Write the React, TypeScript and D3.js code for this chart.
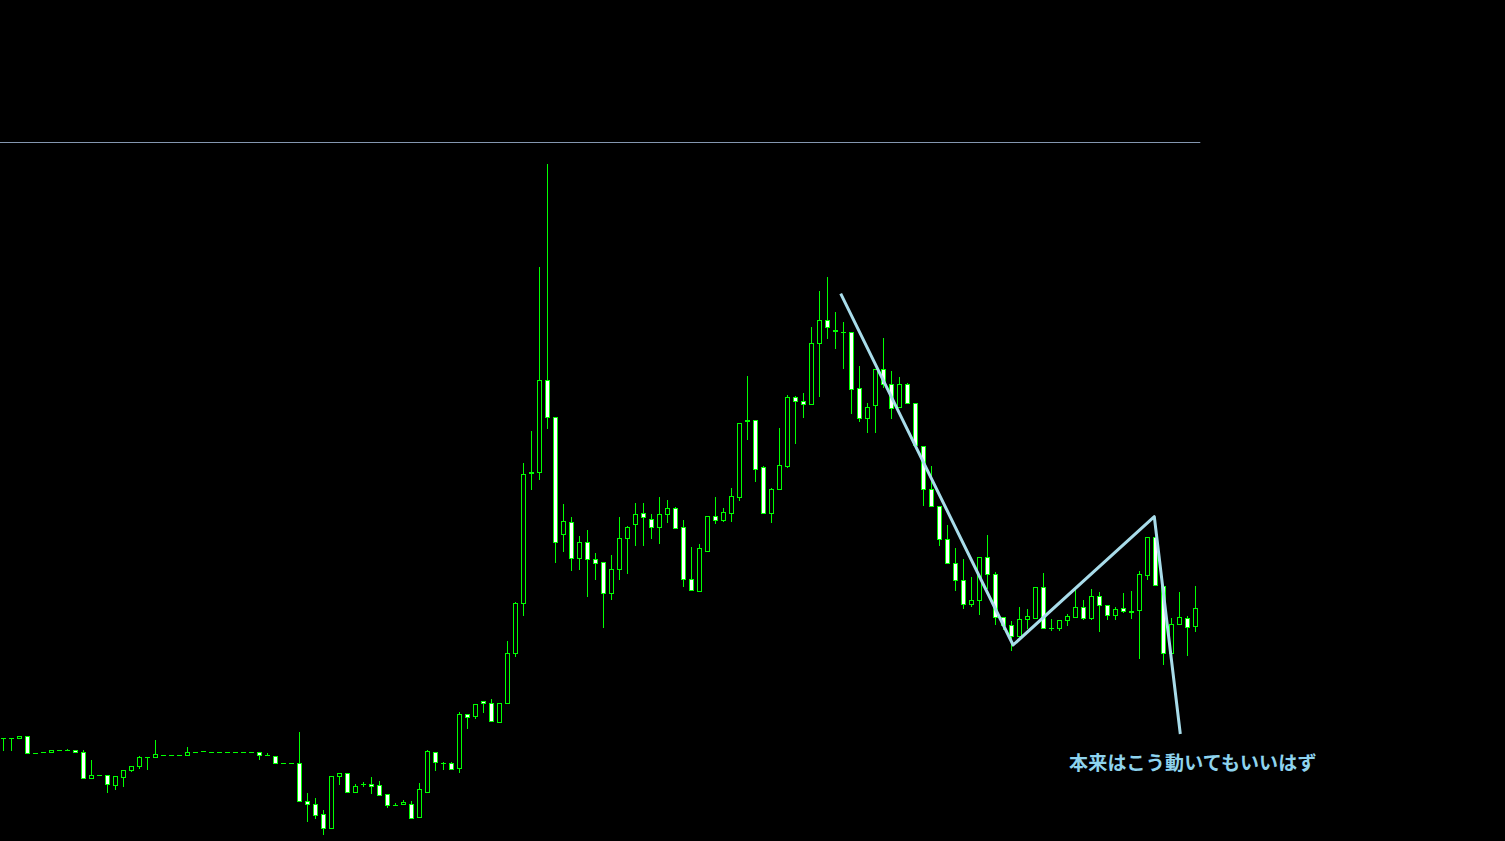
import React from "react";
import * as d3 from "d3";

// OHLC per bar (price units), oldest first
const opens = [112,112,111.7,113.7,97,97.7,97.7,99.7,99.7,99.7,97.7,71.7,74.7,74.7,64.7,72.7,79.7,83.7,92.7,92.7,95.5,94.7,94.7,94.7,98,98.7,97.7,97.7,97.7,97.7,97.7,97.7,97.7,94.7,93.7,86.7,86.7,86.7,48.7,45.7,35.7,21.7,73.7,76.7,57.7,65.7,65.7,64.7,55.7,45.5,45.7,45.7,33.3,57.7,97.7,86.7,86.7,81.7,135.7,133.7,148.7,146.7,127.7,146.7,196.7,246.7,376.7,378.3,470,432.7,316.3,327.7,292.3,307.7,290.7,287.7,257.3,280.7,311.7,325.7,336.7,330.7,322.7,335.7,341.7,322.7,270.7,258.7,298.7,333.7,329.7,336.7,353.3,429.3,429.7,382.7,337.3,360.7,384.3,452.7,448.7,445.7,506.7,529.7,519.2,517.7,517.7,461.7,431.7,444.7,480.7,465.7,443,465.7,446.7,403.7,360.7,343.7,310.7,286.7,269.7,245.7,249.7,292.7,275.7,232.7,224.7,213.7,230.7,231.7,262.7,221.7,221.7,229.7,232.7,242.7,231.7,253.7,244.7,234.7,241.7,238.7,239.7,274.7,312.7,263.7,196.7,225.7,231.7,223.7];
const highs = [112,112,113.7,113.7,97,97.7,99.7,99.7,100.7,99.7,99.7,89.7,74.7,74.7,73.7,79.7,83.7,93.7,92.7,109.7,95.5,94.7,94.7,102.7,98,98.7,97.7,97.7,97.7,97.7,97.7,97.7,97.7,96.7,93.7,86.7,86.7,117.7,56.7,51.7,39.7,73.7,76.7,76.7,65.7,67.7,72.7,68.7,55.7,46.7,49.7,49,66.7,99.7,97.7,87.7,87.7,137.7,135.7,145.7,148.7,150.7,146.7,208.7,247.7,386.7,419,583,686,432.7,346,333,314,320,297,287.7,295,333,324,347,347,336,353,350,343,329.7,302.7,305.7,333.7,353,341.7,361.7,426.7,474,429.7,384,361.7,422,454.7,454,456.7,522.7,558.7,572.7,537.7,527.7,517.7,483.7,446.7,480.7,511.7,478.7,472.7,466.7,446.7,403.7,383.7,343.7,324.7,301.7,290.7,272.7,292.7,314.7,277.7,232.7,228.7,242.7,240.7,262.7,276.7,230.7,229.7,235.7,262.7,249.7,260.7,257.7,244.7,242.7,256.7,258.7,278.7,312.7,312.7,263.7,231.7,257.7,233.7,263.7];
const lows = [99,99,110.7,96.7,97,97.7,97.7,99.7,99.7,97.7,71.7,70.7,74.7,57.3,60.3,63.3,77.7,80.7,79.7,92.7,95.5,94.7,94.7,93.7,98,98.7,97.7,97.7,97.7,97.7,97.7,97.7,90,94.7,86.7,86.7,86.7,48.7,28.3,31.3,15.3,21.7,64.7,56.7,56.7,63.3,55.7,54.7,41.7,45.5,44.7,31.3,33.3,57.7,79.3,80.3,80.7,77.3,121.3,130.7,136.7,128.7,127.7,145.7,192.7,234.3,360,370,421.3,287.3,298,279.3,280,253.3,270,222.3,250,270,276,304,304,311,306,326.7,320.7,263.3,259.7,258.7,298.7,325.7,327.7,327.7,349.3,410,368.3,337.3,327.3,360.7,382.3,406.3,432.3,445.7,453.3,511.3,501.3,481.3,436.3,428.3,417.3,417.3,462,430.7,443,445.7,404.7,343.7,343.7,303.7,286.7,258.7,240.7,242.7,234.7,260.7,224.7,220,199.3,213.7,220.7,231.7,220.7,218.7,218.7,223.7,232.7,229.7,229.7,217.7,229.7,229.7,236.7,230.7,191.3,269.7,264.7,184.7,196.7,224.7,193.7,217.7];
const closes = [112,112,113.7,96.7,97,97.7,99.7,99.7,99.7,97.7,71.7,74.7,74.7,65.7,73.7,79.7,83.7,92.7,92.7,95.7,95.5,94.7,94.7,97.7,98,98.7,97.7,97.7,97.7,97.7,97.7,97.7,94.7,94.7,86.7,86.7,86.7,48.7,45.7,34.7,22.3,73.7,76.7,57.7,63.7,65.7,63.7,54.7,44.7,45.5,47.7,32.3,60.7,98.7,87.7,86.7,80.7,135.7,132.7,145.7,146.7,128.7,146.7,196.7,246.7,375.7,377.7,470,433.3,308.3,329,291.7,307.7,291.3,287.3,256.7,280.7,311.7,322.7,335.7,332.7,322.7,335.7,341.7,321.7,270.7,259.7,301.7,333.7,329.7,337.7,353.7,426.7,430.3,380.7,337.3,360.7,384.7,452.7,448.7,445.7,506.7,529.7,522.7,520,517.7,460.7,431.7,442.7,480.7,465.7,441.7,465.7,446.7,404.7,360.7,343.7,310.7,286.7,269.7,245.7,249.7,292.7,275.7,232.7,224.7,213.7,230.7,233.7,262.7,221.7,221.7,229.7,233.7,242.7,231.7,253.7,244.7,234.7,240.7,238.7,238.2,275.7,312.7,264.7,196.7,225.7,232.7,222.7,241.7];

// horizontal price level line
const levelPrice = 707.5;
const levelEndBar = 149.6;

// hand-drawn projection path: [bar index, price]
const pathBars = [104.65, 126.2, 143.85, 147.1];
const pathPrices = [556.3, 205, 333.3, 116];
const noteText = "本来はこう動いてもいいはず";

const W = 1505;
const H = 841;
const GREEN = "#00ff00";

export default function App() {
  const x = d3.scaleLinear().domain([0, 149]).range([3.5, 3.5 + 8 * 149]);
  const y = d3.scaleLinear().domain([0, 850]).range([850, 0]);
  const pts: [number, number][] = pathBars.map((b, i) => [x(b), y(pathPrices[i])]);
  const line = d3.line();
  const bodyHalf = 2;

  return (
    <svg
      width={W}
      height={H}
      style={{ position: "absolute", left: 0, top: 0, display: "block" }}
    >
      <rect x={0} y={0} width={W} height={H} fill="#000" />
      <line
        x1={0}
        x2={x(levelEndBar)}
        y1={Math.round(y(levelPrice)) + 0.5}
        y2={Math.round(y(levelPrice)) + 0.5}
        stroke="#8497b0"
        strokeWidth={1}
      />
      {opens.map((o, i) => {
        const c = closes[i];
        const cx = x(i);
        const yo = Math.round(y(o));
        const yc = Math.round(y(c));
        const yh = Math.round(y(highs[i]));
        const yl = Math.round(y(lows[i]));
        const top = Math.min(yo, yc);
        const bot = Math.max(yo, yc);
        const bear = c < o;
        return (
          <g key={i}>
            <line x1={cx} x2={cx} y1={yh} y2={yl} stroke={GREEN} strokeWidth={1} />
            {bot - top < 1 ? (
              <line
                x1={cx - bodyHalf - 0.5}
                x2={cx + bodyHalf + 0.5}
                y1={top + 0.5}
                y2={top + 0.5}
                stroke={GREEN}
                strokeWidth={1}
              />
            ) : (
              <rect
                x={cx - bodyHalf}
                y={top + 0.5}
                width={bodyHalf * 2}
                height={bot - top}
                fill={bear ? "#ffffff" : "#000000"}
                stroke={GREEN}
                strokeWidth={1}
              />
            )}
          </g>
        );
      })}
      <path
        d={line(pts) || ""}
        fill="none"
        stroke="#a8dcea"
        strokeWidth={3}
        strokeLinejoin="round"
      />
      <text
        x={1069}
        y={770}
        fill="#8ed3ee"
        fontFamily="'Noto Sans CJK JP', 'Noto Sans', sans-serif"
        fontWeight="bold"
        fontSize={19}
        letterSpacing={0.2}
      >
        {noteText}
      </text>
    </svg>
  );
}
